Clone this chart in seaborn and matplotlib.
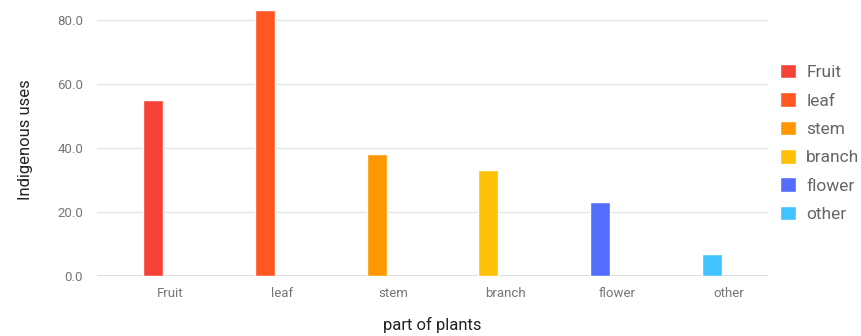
import pandas as pd
import matplotlib.pyplot as plt
import matplotlib.transforms as mtransforms
from matplotlib.patches import Patch
import seaborn as sns

parts = ['Fruit', 'leaf', 'stem', 'branch', 'flower', 'other']
uses = [55, 83, 38, 33, 23, 7]
colors = ['#F44336', '#FF5722', '#FF9800', '#FFC107', '#536DFE', '#40C4FF']
yticks = [0, 20, 40, 60, 80]

sns.set_style("white")
plt.rcParams['font.family'] = ['Roboto', 'DejaVu Sans']

data = pd.DataFrame({'part': parts, 'uses': uses})

fig = plt.figure(figsize=(8.62, 3.36), dpi=100)
ax = fig.add_axes([0.1125, 0.1786, 0.7785, 0.81])

sns.barplot(data=data, x='part', y='uses', hue='part', palette=colors,
            dodge=False, width=0.18, saturation=1, legend=False, ax=ax)

ax.set_xlim(-0.5, 5.5)
ax.set_ylim(0, 85)
ax.set_yticks(yticks)
ax.set_yticklabels([f'{v:.1f}' for v in yticks])
ax.yaxis.grid(True, color='#e6e6e6', linewidth=1)
ax.set_axisbelow(True)
ax.axhline(0, color='#d9d9d9', linewidth=2, zorder=0)
for s in ax.spines.values():
    s.set_visible(False)
ax.tick_params(axis='both', length=0, colors='#757575', labelsize=9.5)
ax.tick_params(axis='y', pad=10)
ax.tick_params(axis='x', pad=8)

# tick labels sit a little right of the bars
offset = mtransforms.ScaledTranslation(0.17, 0, fig.dpi_scale_trans)
for lbl in ax.get_xticklabels():
    lbl.set_transform(lbl.get_transform() + offset)

ax.set_xlabel('part of plants', fontsize=12, color='#222222', labelpad=12)
ax.set_ylabel('Indigenous uses', fontsize=12, color='#222222', labelpad=17)

handles = [Patch(facecolor=c, label=p) for p, c in zip(parts, colors)]
fig.legend(handles=handles, loc='upper left', bbox_to_anchor=(0.897, 0.83),
           frameon=False, fontsize=12.5, labelcolor='#666666',
           handlelength=0.9, handleheight=0.9, handletextpad=0.6,
           labelspacing=0.7, borderaxespad=0)

fig.savefig('out.png', dpi=100)
